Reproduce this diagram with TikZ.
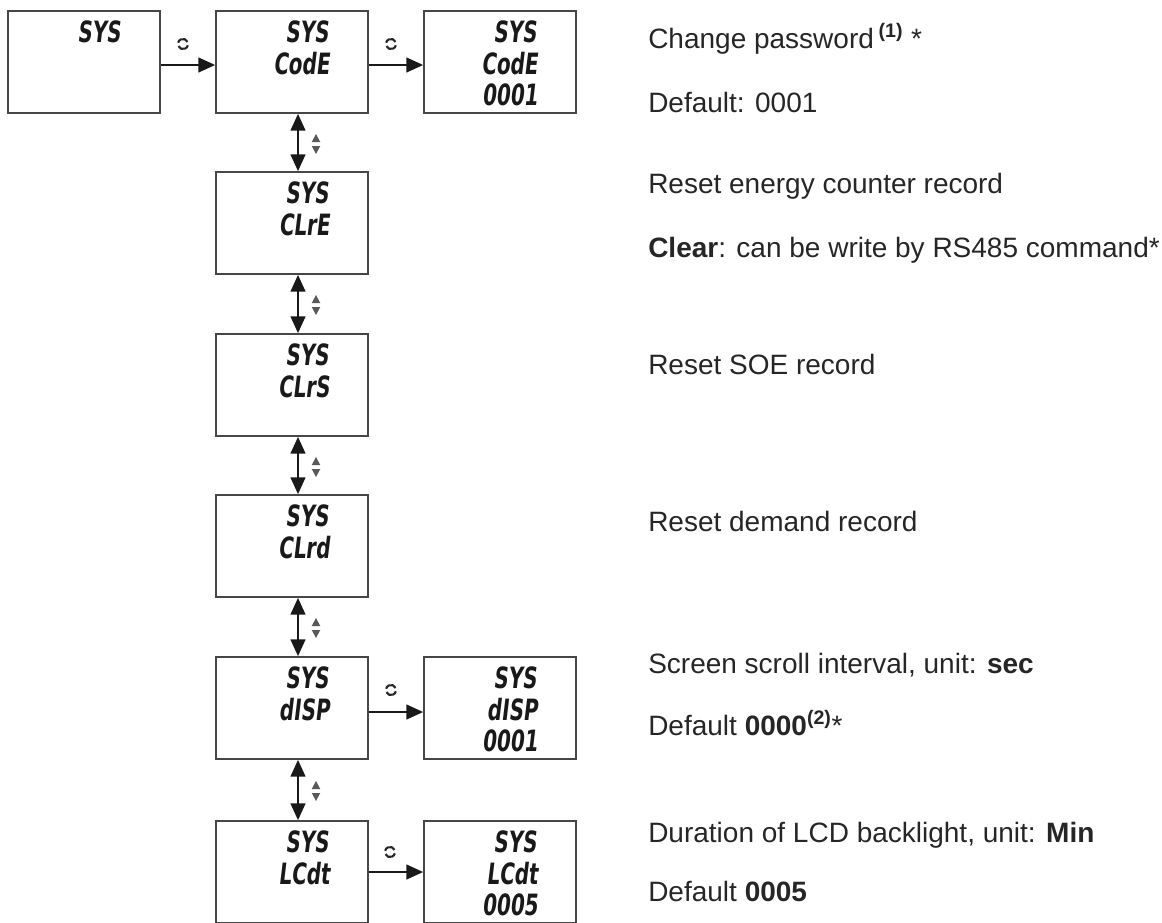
\documentclass[tikz,border=0pt]{standalone}
\usepackage{fontspec}
\setmainfont{Liberation Sans}
\newfontfamily\lcdfont{DejaVu Sans}[FakeSlant=0.12,FakeStretch=0.68]
\usetikzlibrary{arrows.meta,calc}
\begin{document}
\begin{tikzpicture}[x=0.75pt,y=-0.75pt,
  box/.style={draw=black!72,line width=1.3pt,minimum width=114pt,minimum height=76.5pt,inner sep=0pt},
  lcd/.style={font=\lcdfont\bfseries\fontsize{22}{22}\selectfont,anchor=base east,inner sep=0pt,text=black!90},
  darr/.style={line width=1.5pt,draw=black!90,{Triangle[length=12.5pt,width=11pt]}-{Triangle[length=12.5pt,width=11pt]}},
  rarr/.style={line width=1.5pt,draw=black!90,-{Triangle[length=12.5pt,width=11pt]}},
  desc/.style={anchor=base west,inner sep=0pt,font=\fontsize{21}{24}\selectfont,text=black!85},
  updown/.pic={
    \fill[black!65] (-3.2pt,-1.5pt) -- (3.2pt,-1.5pt) -- (0,-7.5pt) -- cycle;
    \fill[black!65] (-3.2pt,1.5pt) -- (3.2pt,1.5pt) -- (0,7.5pt) -- cycle;
  },
  rot/.pic={
    \draw[line width=1.6pt,black!85] (25:3.8pt) arc[start angle=25,end angle=165,radius=3.8pt];
    \draw[line width=1.6pt,black!85] (205:3.8pt) arc[start angle=205,end angle=345,radius=3.8pt];
  }]
\useasboundingbox (0,0) rectangle (1162,922);

% boxes
\node[box] (a) at (84,62) {};
\node[box] (b) at (292,62) {};
\node[box] (c) at (500,62) {};
\node[box] (r2) at (292,223) {};
\node[box] (r3) at (292,385) {};
\node[box] (r4) at (292,546) {};
\node[box] (r5) at (292,708) {};
\node[box] (r5v) at (500,708) {};
\node[box] (r6) at (292,872) {};
\node[box] (r6v) at (500,872) {};

% LCD texts
\node[lcd] (ta1) at ($(a.north east)+(-40,32)$) {SYS};
\node[lcd] (tb1) at ($(b.north east)+(-40,32)$) {SYS};
\node[lcd] (tb2) at ($(b.north east)+(-39,64)$) {CodE};
\node[lcd] (tc1) at ($(c.north east)+(-40,32)$) {SYS};
\node[lcd] (tc2) at ($(c.north east)+(-39,64)$) {CodE};
\node[lcd] (tc3) at ($(c.north east)+(-39,95)$) {0001};
\node[lcd] (t21) at ($(r2.north east)+(-40,32)$) {SYS};
\node[lcd] (t22) at ($(r2.north east)+(-39,64)$) {CLrE};
\node[lcd] (t31) at ($(r3.north east)+(-40,32)$) {SYS};
\node[lcd] (t32) at ($(r3.north east)+(-39,64)$) {CLrS};
\node[lcd] (t41) at ($(r4.north east)+(-40,32)$) {SYS};
\node[lcd] (t42) at ($(r4.north east)+(-39,64)$) {CLrd};
\node[lcd] (t51) at ($(r5.north east)+(-40,32)$) {SYS};
\node[lcd] (t52) at ($(r5.north east)+(-39,64)$) {dISP};
\node[lcd] (t5v1) at ($(r5v.north east)+(-40,32)$) {SYS};
\node[lcd] (t5v2) at ($(r5v.north east)+(-39,64)$) {dISP};
\node[lcd] (t5v3) at ($(r5v.north east)+(-39,95)$) {0001};
\node[lcd] (t61) at ($(r6.north east)+(-40,32)$) {SYS};
\node[lcd] (t62) at ($(r6.north east)+(-39,64)$) {LCdt};
\node[lcd] (t6v1) at ($(r6v.north east)+(-40,32)$) {SYS};
\node[lcd] (t6v2) at ($(r6v.north east)+(-39,64)$) {LCdt};
\node[lcd] (t6v3) at ($(r6v.north east)+(-39,95)$) {0005};

% horizontal arrows
\draw[rarr] ([yshift=-2.25pt]a.east) -- ([yshift=-2.25pt]b.west);
\draw[rarr] ([yshift=-2.25pt]b.east) -- ([yshift=-2.25pt]c.west);
\draw[rarr] ([yshift=-3pt]r5.east) -- ([yshift=-3pt]r5v.west);
\draw[rarr] (r6.east) -- (r6v.west);
\pic at (183,44) {rot};
\pic at (391,44) {rot};
\pic at (391,690) {rot};
\pic at (390,852) {rot};

% vertical arrows
\draw[darr] ([xshift=4.5pt]b.south) -- ([xshift=4.5pt]r2.north);
\draw[darr] ([xshift=4.5pt]r2.south) -- ([xshift=4.5pt]r3.north);
\draw[darr] ([xshift=4.5pt]r3.south) -- ([xshift=4.5pt]r4.north);
\draw[darr] ([xshift=4.5pt]r4.south) -- ([xshift=4.5pt]r5.north);
\draw[darr] ([xshift=4.5pt]r5.south) -- ([xshift=4.5pt]r6.north);
\pic at (316,144) {updown};
\pic at (316,305) {updown};
\pic at (316,467) {updown};
\pic at (316,628) {updown};
\pic at (316,791) {updown};

% descriptions
\node[desc] (d1) at (648,48) {Change password\,\textsuperscript{\textbf{(1)}} *};
\node[desc] (d2) at (648,112) {Default: 0001};
\node[desc] (d3) at (648,193) {Reset energy counter record};
\node[desc] (d4) at (648,257) {\textbf{Clear}: can be write by RS485 command*};
\node[desc] (d5) at (648,374) {Reset SOE record};
\node[desc] (d6) at (648,531) {Reset demand record};
\node[desc] (d7) at (648,673) {Screen scroll interval, unit: \textbf{sec}};
\node[desc] (d8) at (648,735) {Default \textbf{0000}\textsuperscript{\textbf{(2)}}*};
\node[desc] (d9) at (648,842) {Duration of LCD backlight, unit: \textbf{Min}};
\node[desc] (d10) at (648,901) {Default \textbf{0005}};
\end{tikzpicture}
\end{document}
